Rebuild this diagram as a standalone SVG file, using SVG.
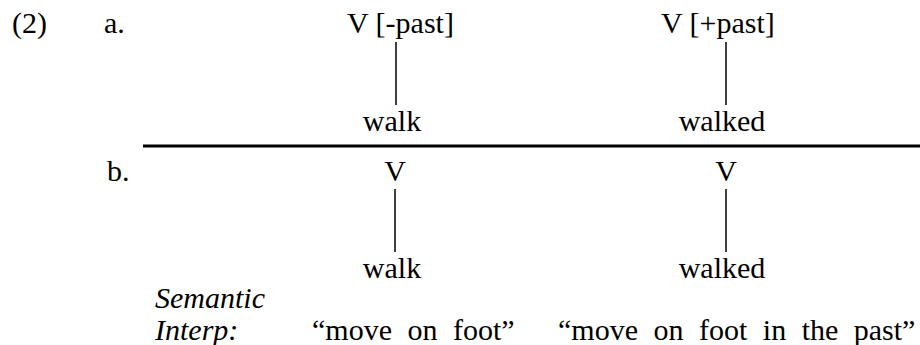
<svg xmlns="http://www.w3.org/2000/svg" width="920" height="345" viewBox="0 0 920 345">
<defs>
<line id="conn" x1="0" y1="0" x2="0" y2="63" stroke="#000" stroke-width="1.5"/>
</defs>
<rect width="920" height="345" fill="#fff"/>
<g id="labels">
<text x="12" y="33" font-size="30" font-family="Liberation Serif">(2)</text>
<text x="104" y="33" font-size="30" font-family="Liberation Serif">a.</text>
<text x="107" y="181" font-size="30" font-family="Liberation Serif">b.</text>
</g>
<line id="rule" x1="143" y1="146" x2="920" y2="146" stroke="#000" stroke-width="3"/>
<g id="connectors">
<use href="#conn" x="396" y="42"/>
<use href="#conn" x="726" y="42"/>
<use href="#conn" x="395" y="189"/>
<use href="#conn" x="726" y="189"/>
</g>
<g id="a-left-top"><text x="347" y="33" font-size="30" font-family="Liberation Serif">V [-past]</text></g>
<g id="a-right-top"><text x="661" y="33" font-size="30" font-family="Liberation Serif">V [+past]</text></g>
<g id="a-left-bottom"><text x="392" y="131" text-anchor="middle" font-size="30" font-family="Liberation Serif">walk</text></g>
<g id="a-right-bottom"><text x="722" y="131" text-anchor="middle" font-size="30" font-family="Liberation Serif">walked</text></g>
<g id="b-left-top"><text x="395" y="181" text-anchor="middle" font-size="30" font-family="Liberation Serif">V</text></g>
<g id="b-right-top"><text x="726" y="181" text-anchor="middle" font-size="30" font-family="Liberation Serif">V</text></g>
<g id="b-left-bottom"><text x="392" y="278" text-anchor="middle" font-size="30" font-family="Liberation Serif">walk</text></g>
<g id="b-right-bottom"><text x="722" y="278" text-anchor="middle" font-size="30" font-family="Liberation Serif">walked</text></g>
<g id="semantic">
<text x="155" y="308" font-style="italic" font-size="30" font-family="Liberation Serif">Semantic</text>
<text x="155" y="340" font-style="italic" font-size="30" font-family="Liberation Serif">Interp:</text>
<text x="312" y="340" word-spacing="8" font-size="30" font-family="Liberation Serif">“move on foot”</text>
<text x="558" y="340" word-spacing="8" font-size="30" font-family="Liberation Serif">“move on foot in the past”</text>
</g>
</svg>
